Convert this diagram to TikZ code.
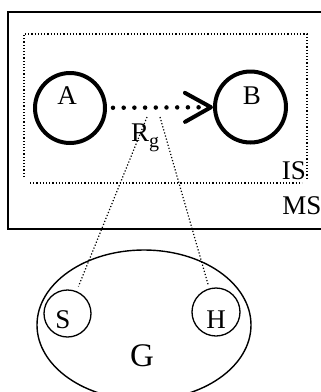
\documentclass[tikz,border=0pt]{standalone}
\usepackage{fontspec}
\setmainfont{Liberation Serif}
\usetikzlibrary{shapes.geometric,arrows.meta}
\tikzset{
  lbl/.style={inner sep=0pt,anchor=base,font=\fontsize{27}{30}\selectfont},
  bigcirc/.style={circle,draw,line width=4pt,inner sep=0pt},
  smallcirc/.style={circle,draw,line width=1.3pt,inner sep=0pt,minimum size=47pt},
  fine/.style={line width=1.2pt,dash pattern=on 1.2pt off 2pt},
  bigdots/.style={line width=4.5pt,line cap=round,dash pattern=on 0pt off 10.7pt},
}
\begin{document}
\begin{tikzpicture}[x=1pt,y=-1pt]
\useasboundingbox (0,0) rectangle (321,392);
\clip (0,0) rectangle (321,392);
% MS box
\draw[line width=2pt] (330,12) -- (8,12) -- (8,229) -- (330,229);
% IS dotted box
\draw[fine] (24,177) -- (24,34) -- (307,34) -- (307,180);
\draw[fine] (30,183) -- (302,183);
% circles
\node[bigcirc,minimum size=70pt] (A) at (70,108) {};
\node[bigcirc,minimum size=71pt] (B) at (250.5,107) {};
\node[lbl] at (67,104) {A};
\node[lbl] at (252,104) {B};
% arrow
\draw[bigdots,shorten <=6pt,-{Straight Barb[length=26pt,width=29pt,line width=4pt,round]}] (A) -- (B);
% Rg
\node[lbl,anchor=base west] (Rg) at (131,141) {R\raisebox{-6pt}{\fontsize{20}{22}\selectfont g}};
\coordinate (g1) at (147,117);
\coordinate (g2) at (160,117);
% G ellipse
\node[ellipse,draw,line width=1.4pt,minimum width=214pt,minimum height=150pt,inner sep=0pt] (G) at (144,325) {};
\node[smallcirc] (S) at (67.5,313.5) {};
\node[smallcirc,minimum size=48pt] (H) at (216,312) {};
\node[lbl] at (63,328) {S};
\node[lbl] at (216,328) {H};
\node[lbl,font=\fontsize{33}{36}\selectfont] at (142,366) {G};
\draw[fine,shorten >=5pt] (g1) -- (S);
\draw[fine,shorten >=4pt] (g2) -- (H);
% IS / MS labels
\node[lbl] at (294,179) {IS};
\node[lbl] at (302,214) {MS};
\end{tikzpicture}
\end{document}
